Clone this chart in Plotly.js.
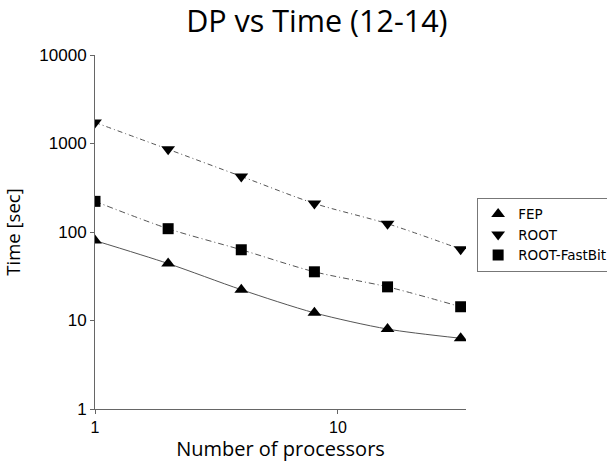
<!DOCTYPE html>
<html>
<head>
<meta charset="utf-8">
<script src="https://cdn.plot.ly/plotly-3.0.1.min.js"></script>
<style>html,body{margin:0;padding:0;background:#fff;}#chart{width:607px;height:462px;}</style>
</head>
<body>
<div id="chart"></div>
<script>
var processors = [1, 2, 4, 8, 16, 32];
var fepTime = [80, 44, 22.3, 12.2, 8.0, 6.3];
var rootTime = [1730, 860, 425, 210, 124, 64];
var fastbitTime = [222, 109, 63, 35.5, 24, 14.3];
var seriesNames = ['FEP', 'ROOT', 'ROOT-FastBit'];
var yTickVals = [1, 10, 100, 1000, 10000];
var xTickVals = [1, 10];

var series = [
  {name: seriesNames[0], y: fepTime, symbol: 'triangle-up', dash: 'solid', size: 12},
  {name: seriesNames[1], y: rootTime, symbol: 'triangle-down', dash: '5px,3px,1px,3px', size: 12},
  {name: seriesNames[2], y: fastbitTime, symbol: 'square', dash: '6px,3px,1px,3px', size: 11}
];

var traces = [];
series.forEach(function (s) {
  traces.push({
    x: processors, y: s.y, mode: 'lines', showlegend: false, hoverinfo: 'skip',
    line: {color: '#555', width: 1, dash: s.dash, shape: 'spline', smoothing: 0.8}
  });
});
series.forEach(function (s) {
  traces.push({
    x: processors, y: s.y, mode: 'markers', name: s.name,
    marker: {symbol: s.symbol, size: s.size, color: '#000', line: {width: 0}}
  });
});

var layout = {
  width: 607, height: 462,
  margin: {l: 95, r: 141, t: 55, b: 53, autoexpand: false},
  paper_bgcolor: '#fff', plot_bgcolor: '#fff',
  title: {text: 'DP vs Time (12-14)', x: 0.522, xanchor: 'center', y: 0.953, yanchor: 'middle',
    font: {family: 'Open Sans', size: 30.5, color: '#000'}},
  xaxis: {
    type: 'log', range: [0, 1.527], tickvals: xTickVals, ticktext: xTickVals.map(String),
    showgrid: false, zeroline: false, showline: true, linecolor: '#666', linewidth: 1,
    ticks: 'outside', ticklen: 4, tickcolor: '#666', automargin: true,
    tickfont: {family: 'Liberation Sans', size: 16, color: '#000'},
    title: {text: 'Number of processors', font: {family: 'Open Sans', size: 20, color: '#000'}, standoff: 6}
  },
  yaxis: {
    type: 'log', range: [0, 4], tickvals: yTickVals, ticktext: yTickVals.map(String),
    showgrid: false, zeroline: false, showline: true, linecolor: '#666', linewidth: 1,
    ticks: 'outside', ticklen: 4, tickcolor: '#666', automargin: true,
    tickfont: {family: 'Liberation Sans', size: 17, color: '#000'},
    title: {text: 'Time [sec]', font: {family: 'Open Sans', size: 18.5, color: '#000'}, standoff: 14}
  },
  legend: {
    x: 1.03, xanchor: 'left', y: 0.597, yanchor: 'top',
    bordercolor: '#777', borderwidth: 1, bgcolor: '#fff',
    font: {family: 'DejaVu Sans', size: 13.5, color: '#000'},
    tracegroupgap: 0, itemwidth: 30
  },
  showlegend: true
};

Plotly.newPlot('chart', traces, layout, {displayModeBar: false, staticPlot: true});
</script>
</body>
</html>
